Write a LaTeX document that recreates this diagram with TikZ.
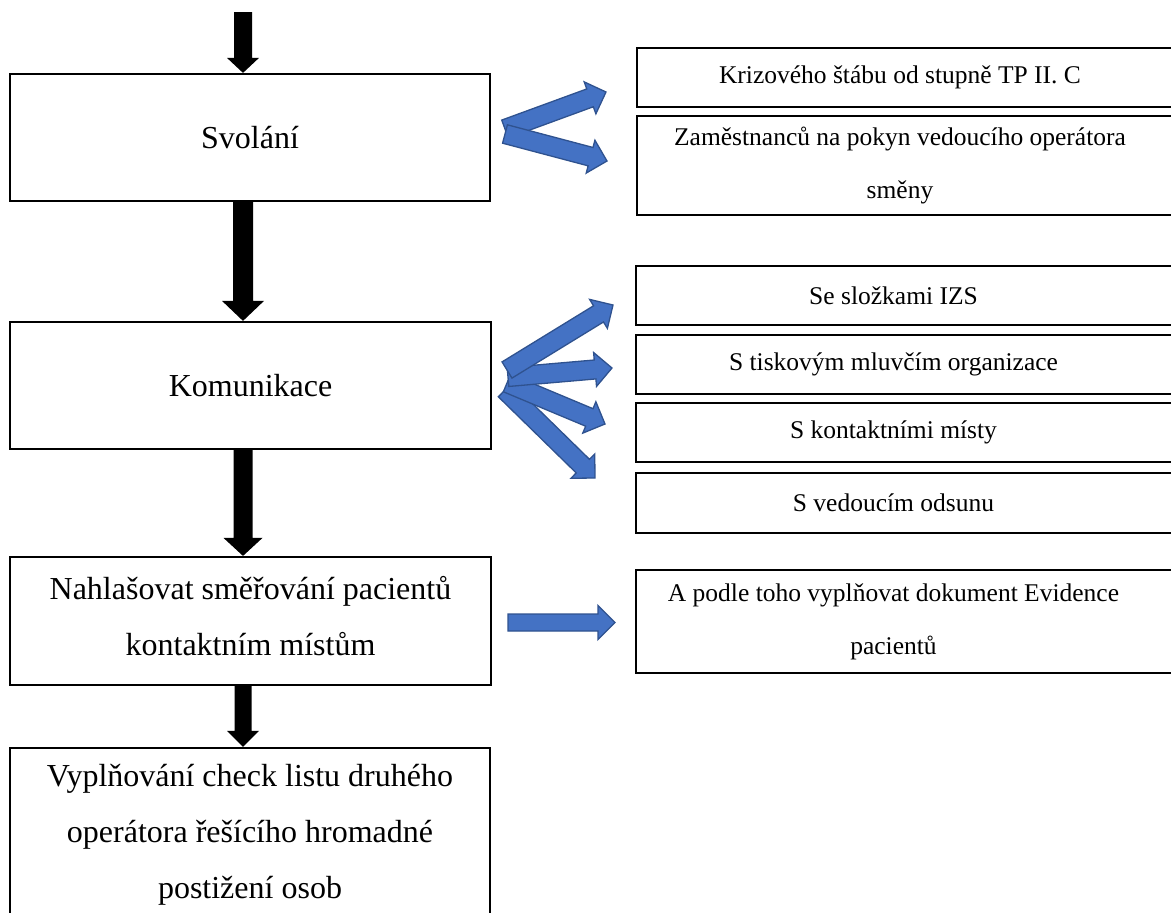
\documentclass[tikz,border=0pt]{standalone}
\usepackage{fontspec}
\setmainfont{Liberation Serif}
\usetikzlibrary{calc}

\definecolor{arrowblue}{HTML}{4472C4}
\definecolor{arrowedge}{HTML}{2F528F}

\tikzset{
  leftbox/.style={draw, line width=2.2pt, minimum width=480pt, align=center,
    inner sep=0pt, font=\fontsize{32}{56}\selectfont},
  rightbox/.style={inner sep=0pt, align=center, font=\fontsize{25.5}{53}\selectfont},
  frame/.style={line width=2.2pt},
  blackarr/.style={fill=black},
  bluearr/.style={fill=arrowblue, draw=arrowedge, line width=1.3pt, line join=miter},
}

% block arrow: style, tail, tip, shaft half width, head half width, head length
\newcommand\blockarrow[6]{%
  \coordinate (ba-h) at ($(#3)!#6!(#2)$);
  \path[#1] ($(#2)!#4!90:(#3)$) -- ($(ba-h)!#4!90:(#3)$) -- ($(ba-h)!#5!90:(#3)$)
    -- (#3) -- ($(ba-h)!#5!-90:(#3)$) -- ($(ba-h)!#4!-90:(#3)$)
    -- ($(#2)!#4!-90:(#3)$) -- cycle;
}

% box open to the right, running past the page edge
\newcommand\openframe[1]{%
  \draw[frame] ([xshift=40pt]#1.north east) -- (#1.north west)
    -- (#1.south west) -- ([xshift=40pt]#1.south east);
}

\begin{document}
\begin{tikzpicture}[x=1pt, y=-1pt]
\useasboundingbox (0,0) rectangle (1171,913);

% main column
\node[leftbox, minimum height=127pt] (b1) at (250,137.5) {Svolání};
\node[leftbox, minimum height=127pt, minimum width=481pt] (b2) at (250.5,385.5) {Komunikace};
\node[leftbox, minimum height=128pt, minimum width=481pt] (b3) at (250.5,621)
  {\raisebox{5pt}[\height][\depth]{\parbox{470pt}{\centering Nahlašovat směřování pacientů\\kontaktním místům}}};
\node[leftbox, minimum height=174pt] (b4) at (250,835)
  {Vyplňování check listu druhého\\operátora řešícího hromadné\\postižení osob};

% side boxes
\node[rightbox, minimum width=526pt, minimum height=59pt] (k1) at (900,77.5)
  {Krizového štábu od stupně TP II. C};
\node[rightbox, minimum width=526pt, minimum height=99pt] (k2) at (900,165.5)
  {Zaměstnanců na pokyn vedoucího operátora\\směny};
\node[rightbox, minimum width=515pt, minimum height=59pt] (s1) at (893.5,295.5)
  {Se složkami IZS};
\node[rightbox, minimum width=515pt, minimum height=59pt] (s2) at (893.5,364.5)
  {S tiskovým mluvčím organizace};
\node[rightbox, minimum width=515pt, minimum height=59pt] (s3) at (893.5,432.5)
  {S kontaktními místy};
\node[rightbox, minimum width=515pt, minimum height=60pt] (s4) at (893.5,503)
  {S vedoucím odsunu};
\node[rightbox, minimum width=515pt, minimum height=103pt] (e1) at (893.5,621.5)
  {A podle toho vyplňovat dokument Evidence\\pacientů};
\foreach \n in {k1,k2,s1,s2,s3,s4,e1} {\openframe{\n}}

% black flow arrows
\coordinate (ax) at (243,0);
\coordinate (a0) at (243,12);
\coordinate (a1t) at (b1.north -| ax);
\coordinate (a2s) at (b1.south -| ax);
\coordinate (a2t) at (b2.north -| ax);
\coordinate (a3s) at (b2.south -| ax);
\coordinate (a3t) at (b3.north -| ax);
\coordinate (a4s) at (b3.south -| ax);
\coordinate (a4t) at (b4.north -| ax);
\blockarrow{blackarr}{a0}{a1t}{9pt}{16pt}{15pt}
\blockarrow{blackarr}{a2s}{a2t}{10pt}{21pt}{20pt}
\blockarrow{blackarr}{a3s}{a3t}{9.5pt}{19.5pt}{18pt}
\blockarrow{blackarr}{a4s}{a4t}{8.5pt}{16pt}{16pt}

% blue branch arrows
\coordinate (v1) at (505,129);
\coordinate (v2) at (505,134);
\coordinate (vk1) at (606,92);
\coordinate (vk2) at (607,161);
\blockarrow{bluearr}{v1}{vk1}{9.5pt}{17pt}{17pt}
\blockarrow{bluearr}{v2}{vk2}{9.5pt}{17pt}{17pt}

\coordinate (w1) at (507,370);
\coordinate (w2) at (508,377);
\coordinate (w3) at (507,383);
\coordinate (w4) at (505,390);
\coordinate (ws1) at (613,305);
\coordinate (ws2) at (612,368);
\coordinate (ws3) at (605,424);
\coordinate (ws4) at (595,478);
\blockarrow{bluearr}{w4}{ws4}{9.5pt}{17pt}{17pt}
\blockarrow{bluearr}{w3}{ws3}{9.5pt}{17pt}{17pt}
\blockarrow{bluearr}{w2}{ws2}{9.5pt}{17pt}{17pt}
\blockarrow{bluearr}{w1}{ws1}{9.5pt}{17pt}{17pt}

\coordinate (n1) at (508,622.5);
\coordinate (ne1) at (615,622.5);
\blockarrow{bluearr}{n1}{ne1}{8.5pt}{17pt}{17pt}
\end{tikzpicture}
\end{document}
